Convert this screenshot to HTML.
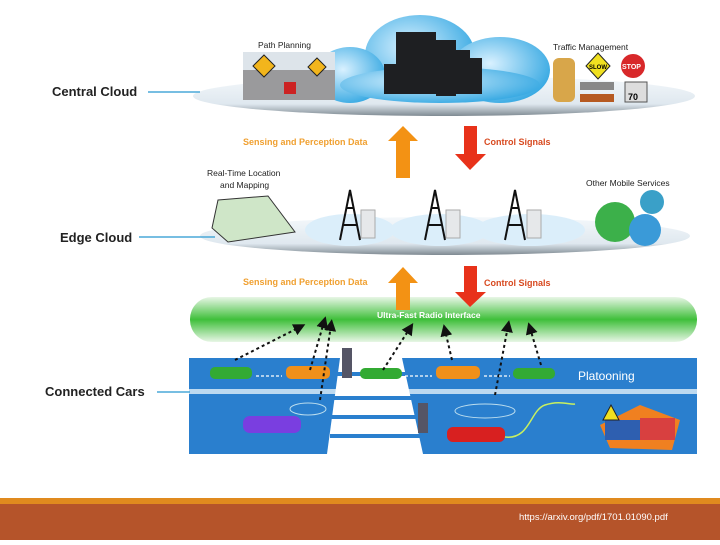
<!DOCTYPE html>
<html><head><style>
body{margin:0;width:720px;height:540px;overflow:hidden;background:#fff;font-family:"Liberation Sans",sans-serif}
</style></head><body>
<svg width="720" height="540" viewBox="0 0 720 540" xmlns="http://www.w3.org/2000/svg" font-family="Liberation Sans, sans-serif">
<defs>
<linearGradient id="plat" x1="0" y1="0" x2="0" y2="1"><stop offset="0" stop-color="#f4f8fb"/><stop offset="0.7" stop-color="#dfe8ef"/><stop offset="1" stop-color="#7f8a92"/></linearGradient>
<linearGradient id="green" x1="0" y1="0" x2="0" y2="1"><stop offset="0" stop-color="#e8f6e6"/><stop offset="0.5" stop-color="#3fbf3a"/><stop offset="1" stop-color="#e8f6e6"/></linearGradient>
<radialGradient id="cloud" cx="0.4" cy="0.4" r="0.7"><stop offset="0" stop-color="#d9f1ff"/><stop offset="1" stop-color="#2aa3e0"/></radialGradient>
<marker id="ah" markerWidth="6" markerHeight="6" refX="3" refY="3" orient="auto"><path d="M0,0L6,3L0,6z" fill="#111"/></marker>
</defs>
<!-- central platform -->
<ellipse cx="444" cy="96" rx="251" ry="20" fill="url(#plat)"/>
<line x1="148" y1="92" x2="200" y2="92" stroke="#4aa8d8" stroke-width="1.5"/>
<text x="52" y="96" font-size="13" font-weight="bold" fill="#222">Central Cloud</text>
<!-- cloud -->
<g fill="url(#cloud)">
<ellipse cx="420" cy="55" rx="55" ry="40"/><ellipse cx="350" cy="75" rx="35" ry="28"/><ellipse cx="500" cy="70" rx="50" ry="33"/><ellipse cx="440" cy="85" rx="100" ry="18"/>
</g>
<g fill="#1e1f22"><rect x="396" y="32" width="40" height="62"/><rect x="436" y="40" width="20" height="56"/><rect x="456" y="50" width="14" height="44"/><rect x="470" y="58" width="12" height="36"/><rect x="384" y="64" width="14" height="30"/></g>
<text x="258" y="48" font-size="8.5" fill="#222">Path Planning</text>
<rect x="243" y="52" width="92" height="48" fill="#9a9a9c"/>
<rect x="243" y="52" width="92" height="18" fill="#dde4ea"/>
<polygon points="264,55 275,66 264,77 253,66" fill="#f2b51c" stroke="#222"/>
<polygon points="317,58 326,67 317,76 308,67" fill="#f2b51c" stroke="#222"/>
<rect x="284" y="82" width="12" height="12" fill="#c22"/>
<text x="553" y="50" font-size="8.5" fill="#222">Traffic Management</text>
<rect x="553" y="58" width="22" height="44" rx="6" fill="#d8a64a"/>
<polygon points="598,53 610,66 598,79 586,66" fill="#f0e020" stroke="#222"/>
<text x="589" y="69" font-size="6" font-weight="bold">SLOW</text>
<circle cx="633" cy="66" r="12" fill="#d8282a"/><text x="622" y="69" font-size="7" fill="#fff" font-weight="bold">STOP</text>
<rect x="580" y="82" width="34" height="8" fill="#888"/><rect x="580" y="94" width="34" height="8" fill="#b65a22"/>
<rect x="625" y="82" width="22" height="20" fill="#ddd" stroke="#555"/><text x="628" y="100" font-size="9" font-weight="bold">70</text>
<!-- arrows -->
<polygon points="396,178 410,178 410,141 418,141 403,126 388,141 396,141" fill="#f39214"/>
<polygon points="464,126 477,126 477,154 486,154 470,170 455,154 464,154" fill="#e8321a"/>
<text x="243" y="145" font-size="9" font-weight="bold" fill="#f0a030">Sensing and Perception Data</text>
<text x="484" y="145" font-size="9" font-weight="bold" fill="#d84a20">Control Signals</text>
<!-- edge platform -->
<ellipse cx="445" cy="236" rx="245" ry="19" fill="url(#plat)"/>
<line x1="139" y1="237" x2="215" y2="237" stroke="#4aa8d8" stroke-width="1.5"/>
<text x="60" y="242" font-size="13" font-weight="bold" fill="#222">Edge Cloud</text>
<g fill="#dbeefa"><ellipse cx="350" cy="230" rx="45" ry="16"/><ellipse cx="440" cy="230" rx="50" ry="16"/><ellipse cx="530" cy="230" rx="55" ry="16"/></g>
<g stroke="#111" stroke-width="2" fill="none">
<path d="M340,240L350,190L360,240M343,225h14M346,208h8"/>
<path d="M425,240L435,190L445,240M428,225h14M431,208h8"/>
<path d="M505,240L515,190L525,240M508,225h14M511,208h8"/>
</g>
<g fill="#e6e8ea" stroke="#aaa"><rect x="361" y="210" width="14" height="28"/><rect x="446" y="210" width="14" height="28"/><rect x="527" y="210" width="14" height="28"/></g>
<text x="207" y="176" font-size="8.5" fill="#222">Real-Time Location</text>
<text x="220" y="188" font-size="8.5" fill="#222">and Mapping</text>
<polygon points="218,200 268,196 295,232 228,242 212,228" fill="#cfe6c8" stroke="#333"/>
<text x="586" y="186" font-size="8.5" fill="#222">Other Mobile Services</text>
<circle cx="615" cy="222" r="20" fill="#3cb04a"/><circle cx="645" cy="230" r="16" fill="#3a9ad8"/><circle cx="652" cy="202" r="12" fill="#3aa0c8"/>
<!-- green band -->
<rect x="190" y="297" width="507" height="45" rx="22" fill="url(#green)"/>
<!-- lower arrows -->
<polygon points="396,310 410,310 410,283 418,283 403,267 388,283 396,283" fill="#f39214"/>
<polygon points="464,266 477,266 477,292 486,292 470,307 455,292 464,292" fill="#e8321a"/>
<text x="243" y="285" font-size="9" font-weight="bold" fill="#f0a030">Sensing and Perception Data</text>
<text x="484" y="286" font-size="9" font-weight="bold" fill="#d84a20">Control Signals</text>
<text x="377" y="318" font-size="8.5" font-weight="bold" fill="#fff">Ultra-Fast Radio Interface</text>
<!-- road -->
<rect x="189" y="358" width="508" height="96" fill="#2a7fce"/>
<rect x="189" y="389" width="508" height="5" fill="#bcd9f0"/>
<polygon points="340,358 402,358 423,454 327,454" fill="#fff"/>
<g fill="#2a7fce"><rect x="330" y="372" width="95" height="4"/><rect x="330" y="396" width="95" height="4"/><rect x="330" y="415" width="95" height="4"/><rect x="330" y="434" width="95" height="4"/></g>
<line x1="157" y1="392" x2="190" y2="392" stroke="#4aa8d8" stroke-width="1.5"/>
<text x="45" y="396" font-size="13" font-weight="bold" fill="#222">Connected Cars</text>
<text x="578" y="380" font-size="12" fill="#fff">Platooning</text>
<g>
<rect x="210" y="367" width="42" height="12" rx="5" fill="#3a3"/>
<rect x="286" y="366" width="44" height="13" rx="5" fill="#f0901a"/>
<rect x="360" y="368" width="42" height="11" rx="5" fill="#3a3"/>
<rect x="436" y="366" width="44" height="13" rx="5" fill="#f0901a"/>
<rect x="513" y="368" width="42" height="11" rx="5" fill="#3a3"/>
<rect x="243" y="416" width="58" height="17" rx="7" fill="#7a3ee0"/>
<rect x="447" y="427" width="58" height="15" rx="6" fill="#d82020"/>
<polygon points="600,425 640,405 680,420 672,450 610,448" fill="#f08020"/>
<rect x="605" y="420" width="35" height="20" fill="#2e5fb0"/><rect x="640" y="418" width="35" height="22" fill="#d84040"/>
<polygon points="611,405 603,420 619,420" fill="#f0e020" stroke="#222"/>
</g>
<g fill="#556"><rect x="342" y="348" width="10" height="30"/><rect x="418" y="403" width="10" height="30"/></g>
<ellipse cx="308" cy="409" rx="18" ry="6" fill="none" stroke="#bde"/><ellipse cx="485" cy="411" rx="30" ry="7" fill="none" stroke="#bde"/>
<path d="M505,437 C530,440 530,410 545,405 C560,400 570,405 575,404" stroke="#c8f060" stroke-width="1.5" fill="none"/>
<g stroke="#111" stroke-width="2" stroke-dasharray="3,3" fill="none" marker-end="url(#ah)">
<line x1="235" y1="360" x2="300" y2="327"/><line x1="310" y1="370" x2="324" y2="322"/><line x1="320" y1="400" x2="331" y2="325"/>
<line x1="383" y1="370" x2="410" y2="328"/><line x1="452" y1="360" x2="445" y2="330"/><line x1="495" y1="395" x2="508" y2="326"/><line x1="541" y1="365" x2="530" y2="328"/>
</g>
<g stroke="#fff" stroke-width="1.2" stroke-dasharray="3,2"><line x1="256" y1="376" x2="282" y2="376"/><line x1="405" y1="376" x2="432" y2="376"/><line x1="484" y1="376" x2="510" y2="376"/></g>
<!-- footer -->
<rect x="0" y="498" width="720" height="6" fill="#e08a1e"/>
<rect x="0" y="504" width="720" height="36" fill="#b5542a"/>
<text x="519" y="520" font-size="9.5" fill="#fff">https://arxiv.org/pdf/1701.01090.pdf</text>
</svg>
</body></html>
